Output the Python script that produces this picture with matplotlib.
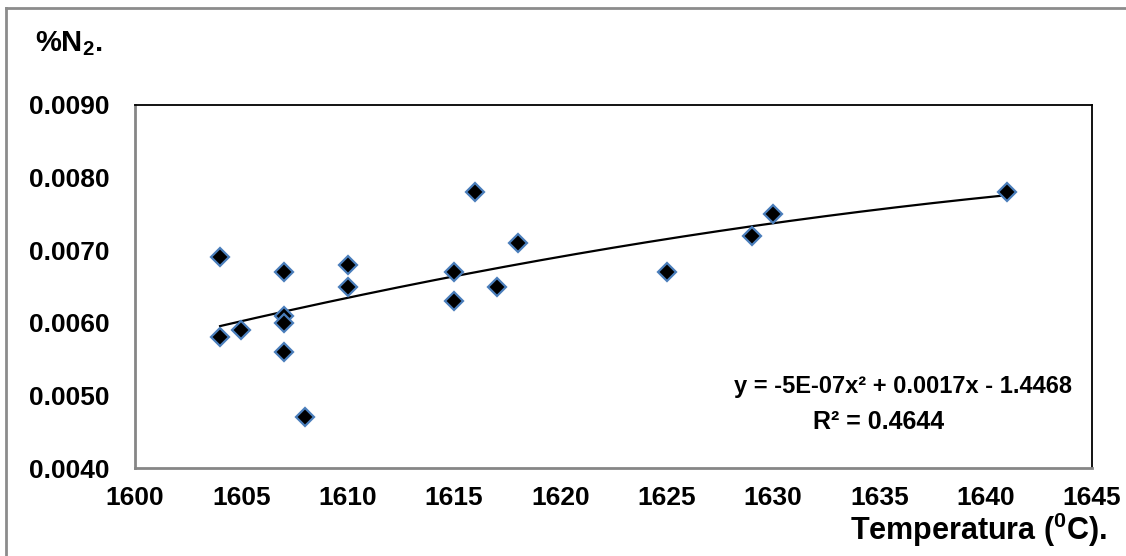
import numpy as np
import matplotlib
matplotlib.use("Agg")
import matplotlib.pyplot as plt
from matplotlib.lines import Line2D

plt.rcParams['font.family'] = ['Liberation Sans', 'DejaVu Sans']
plt.rcParams['font.weight'] = 'bold'
plt.rcParams['mathtext.fontset'] = 'custom'
plt.rcParams['mathtext.rm'] = 'Liberation Sans:bold'
plt.rcParams['mathtext.it'] = 'Liberation Sans:bold'
plt.rcParams['mathtext.bf'] = 'Liberation Sans:bold'

## data
temperatura = [1604, 1604, 1605, 1607, 1607, 1607, 1607, 1608, 1610, 1610,
               1615, 1615, 1616, 1617, 1618, 1625, 1629, 1630, 1641]
n2 = [0.0069, 0.0058, 0.0059, 0.0067, 0.0061, 0.0060, 0.0056, 0.0047, 0.0068, 0.0065,
      0.0067, 0.0063, 0.0078, 0.0065, 0.0071, 0.0067, 0.0072, 0.0075, 0.0078]
x_ticks = [1600, 1605, 1610, 1615, 1620, 1625, 1630, 1635, 1640, 1645]
y_ticks = [0.0040, 0.0050, 0.0060, 0.0070, 0.0080, 0.0090]
eq_text = "y = -5E-07x\u00b2 + 0.0017x - 1.4468"
r2_text = "R\u00b2 = 0.4644"

fig = plt.figure(figsize=(11.26, 5.56), dpi=100)
ax = fig.add_axes([135/1126, 1 - 468/556, (1092-135)/1126, (468-105)/556])

# polynomial trendline (order 2), like the spreadsheet one
coef = np.polyfit(temperatura, n2, 2)
xs = np.linspace(min(temperatura), max(temperatura), 200)
ax.plot(xs, np.polyval(coef, xs), color='black', lw=1.6, zorder=2)

ax.plot(temperatura, n2, linestyle='none', marker='D', markersize=9,
        markerfacecolor='black', markeredgecolor='#4a7ebb', markeredgewidth=1.6, zorder=3)

ax.set_xlim(1600, 1645)
ax.set_ylim(0.0040, 0.0090)
ax.set_xticks(x_ticks)
ax.set_yticks(y_ticks)
ax.set_yticklabels(['%.4f' % v for v in y_ticks])
ax.tick_params(length=0, labelsize=19)
ax.tick_params(axis='x', pad=13)
ax.tick_params(axis='y', pad=18)

for s in ['left', 'bottom']:
    ax.spines[s].set_color('#868686')
    ax.spines[s].set_linewidth(2)
for s in ['top', 'right']:
    ax.spines[s].set_color('black')
    ax.spines[s].set_linewidth(1.3)

ax.text(903/1126, 1 - 387/556, eq_text, transform=fig.transFigure,
        ha='center', va='center', fontsize=17, fontweight='bold')
ax.text(879/1126, 1 - 422/556, r2_text, transform=fig.transFigure,
        ha='center', va='center', fontsize=18, fontweight='bold')

fig.text(35/1126, 1 - 44/556, "%N$_2$.", ha='left', va='center', fontsize=21, fontweight='bold')
fig.text(1107/1126, 1 - 530/556, "Temperatura ($^0$C).", ha='right', va='center',
         fontsize=22, fontweight='bold')

# outer chart border (only left and top visible in the crop)
fig.add_artist(Line2D([6/1126, 6/1126], [0, 1 - 8/556], transform=fig.transFigure,
                      color='#8c8c8c', lw=2))
fig.add_artist(Line2D([6/1126, 1], [1 - 8/556, 1 - 8/556], transform=fig.transFigure,
                      color='#8c8c8c', lw=2))

fig.savefig('out.png', dpi=100)
